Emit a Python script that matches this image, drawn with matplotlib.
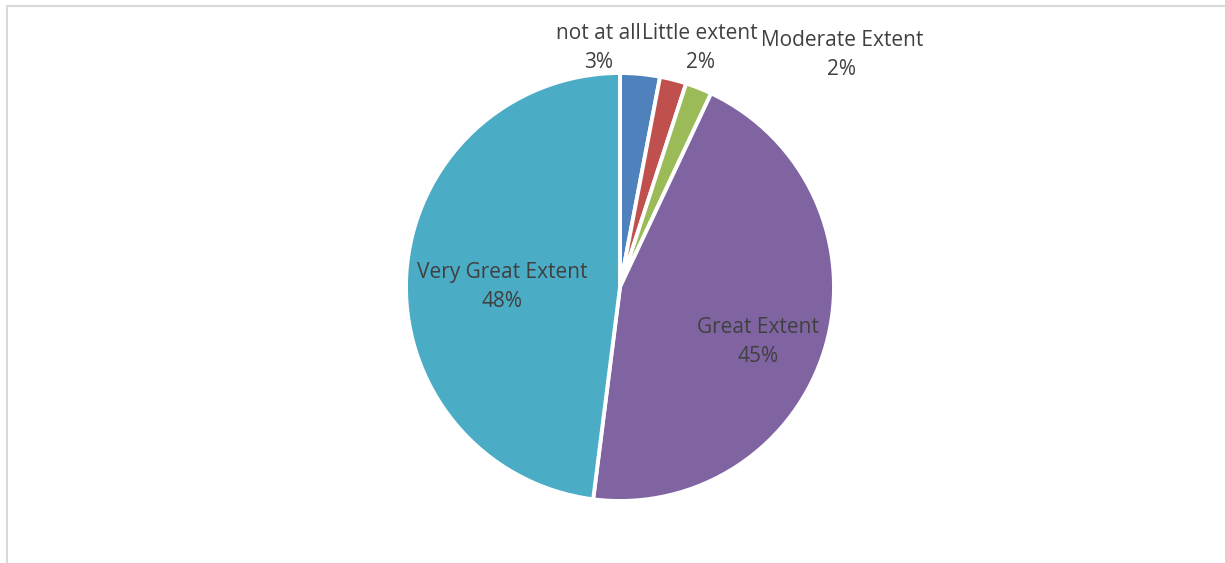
import matplotlib.pyplot as plt
from matplotlib.patches import Rectangle

categories = ["not at all", "Little extent", "Moderate Extent", "Great Extent", "Very Great Extent"]
values = [3, 2, 2, 45, 48]
colors = ["#4F81BD", "#C0504D", "#9BBB59", "#8064A2", "#4BACC6"]

# label spots in pie-radius units (centre = 0,0)
label_pos = [(-0.10, 1.116), (0.374, 1.116), (1.037, 1.086), (0.645, -0.255), (-0.551, 0.0)]

W, H = 1225, 563
cx, cy, r = 620, 287, 214  # pie centre and radius in pixels

fig = plt.figure(figsize=(W / 100, H / 100), dpi=100)
ax = fig.add_axes([0, 0, 1, 1])

ax.pie(values, colors=colors, startangle=90, counterclock=False, radius=1,
       wedgeprops=dict(edgecolor="white", linewidth=2.8), frame=True)
ax.set_xlim(-cx / r, (W - cx) / r)
ax.set_ylim(-(H - cy) / r, cy / r)
ax.axis("off")

for name, v, (x, y) in zip(categories, values, label_pos):
    ax.text(x, y, f"{name}\n{v}%", ha="center", va="center", fontsize=15,
            color="#404040", family="Open Sans", linespacing=1.5)

# chart area border (only left and top are visible in the crop)
fig.patches.append(Rectangle((7 / W, -0.1), 1.2, (H - 6) / H + 0.1, transform=fig.transFigure,
                             fill=False, edgecolor="#d9d9d9", linewidth=1.5))

fig.savefig("out.png", dpi=100)
